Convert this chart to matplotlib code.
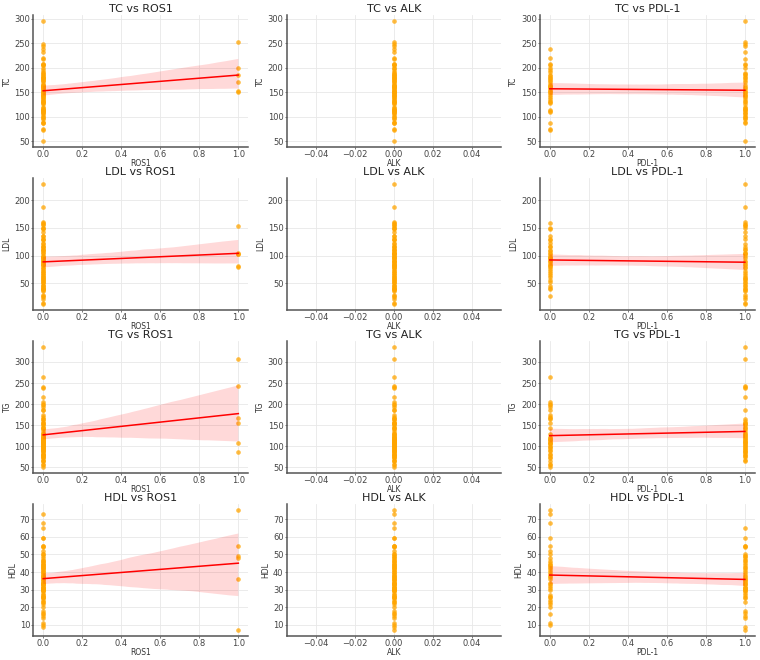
import matplotlib
matplotlib.use("Agg")
import matplotlib.pyplot as plt
from matplotlib.ticker import MultipleLocator
import numpy as np
import pandas as pd
import seaborn as sns

# ---- per-patient data (ROS1-positive patients first) ----
ros1_pos_pdl1 = [1, 1, 0, 1, 0, 1]
ros1_pos_tc = [252, 200, 186, 170, 152, 150]
ros1_pos_ldl = [154, 104, 103, 102, 81, 80]
ros1_pos_tg = [306, 242, 167, 155, 107, 87]
ros1_pos_hdl = [7, 55, 75, 49, 48, 36]

# ROS1-negative, PDL-1 negative patients
pdl0_tc = [238, 220, 207, 205, 200, 196, 192, 183, 180, 178, 175, 172, 168, 165, 162, 160, 158,
           155, 150, 148, 145, 140, 137, 133, 130, 128, 113, 112, 110, 88, 75, 72, 162]
pdl0_ldl = [158, 150, 148, 135, 130, 128, 122, 118, 115, 110, 108, 104, 100, 98, 96, 95, 92,
            90, 88, 85, 82, 80, 76, 72, 68, 65, 62, 52, 55, 45, 42, 40, 27]
pdl0_tg = [265, 205, 200, 197, 193, 185, 175, 170, 165, 155, 143, 128, 122, 120, 118, 115, 114,
           110, 108, 105, 100, 98, 95, 90, 88, 82, 80, 75, 72, 65, 58, 55, 50]
pdl0_hdl = [73, 68, 59, 55, 52, 50, 46, 44, 42, 41, 40, 39, 38, 37, 36, 34, 33,
            32, 31, 30, 27, 26, 26, 24, 23, 22, 20, 16, 11, 10, 45, 43, 44]

# ROS1-negative, PDL-1 positive patients
pdl1_tc = [295, 248, 245, 232, 218, 207, 205, 190, 187, 185, 182, 178, 175, 165, 160, 158, 155,
           150, 147, 145, 142, 140, 136, 133, 130, 126, 120, 117, 115, 113, 110, 108, 105, 102,
           100, 97, 95, 90, 88, 50, 114]
pdl1_ldl = [229, 188, 160, 157, 155, 150, 143, 135, 130, 120, 115, 112, 110, 105, 100, 95, 90,
            88, 85, 82, 78, 72, 68, 65, 62, 60, 57, 55, 52, 50, 47, 45, 42, 40, 38, 35, 28, 25,
            22, 15, 12]
pdl1_tg = [335, 237, 240, 216, 185, 165, 102, 160, 93, 155, 152, 150, 108, 145, 142, 140, 111,
           135, 132, 130, 127, 125, 122, 120, 117, 115, 112, 110, 105, 100, 97, 95, 90, 88, 85,
           82, 80, 77, 75, 66, 64]
pdl1_hdl = [65, 59, 55, 54, 50, 49, 48, 47, 46, 45, 44, 43, 42, 40, 39, 36, 35, 34, 33, 32, 31,
            30, 29, 28, 27, 26, 25, 23, 18, 17, 15, 14, 9, 41, 38, 37, 35, 33, 31, 30, 31]

lipids = ["TC", "LDL", "TG", "HDL"]
markers = ["ROS1", "ALK", "PDL-1"]
y_steps = {"TC": 50, "LDL": 50, "TG": 50, "HDL": 10}

n0, n1 = len(pdl0_tc), len(pdl1_tc)
df = pd.DataFrame({
    "ROS1": [1] * len(ros1_pos_tc) + [0] * (n0 + n1),
    "ALK": [0] * (len(ros1_pos_tc) + n0 + n1),
    "PDL-1": ros1_pos_pdl1 + [0] * n0 + [1] * n1,
    "TC": ros1_pos_tc + pdl0_tc + pdl1_tc,
    "LDL": ros1_pos_ldl + pdl0_ldl + pdl1_ldl,
    "TG": ros1_pos_tg + pdl0_tg + pdl1_tg,
    "HDL": ros1_pos_hdl + pdl0_hdl + pdl1_hdl,
})

plt.rcParams["font.family"] = ["DejaVu Sans"]
fig, axes = plt.subplots(4, 3, figsize=(7.6, 6.6), dpi=100)
fig.subplots_adjust(left=0.044, right=0.993, top=0.977, bottom=0.036,
                    wspace=0.18, hspace=0.235)

for i, lip in enumerate(lipids):
    for j, mk in enumerate(markers):
        ax = axes[i, j]
        ax.set_axisbelow(True)
        ax.grid(True, color="#e8e8e8", linewidth=0.6)
        if mk == "ALK":
            ax.scatter(df[mk], df[lip], color="orange", alpha=0.75, s=11, linewidths=0)
        else:
            sns.regplot(data=df, x=mk, y=lip, ax=ax, seed=0,
                        scatter_kws={"color": "orange", "alpha": 0.75, "s": 11, "linewidths": 0},
                        line_kws={"color": "red", "linewidth": 1.1})
        ax.yaxis.set_major_locator(MultipleLocator(y_steps[lip]))
        ax.set_title(f"{lip} vs {mk}", fontsize=8, color="#222222", pad=2)
        ax.set_xlabel(mk, fontsize=5.5, color="#333333", labelpad=0)
        ax.set_ylabel(lip, fontsize=5.5, color="#333333", labelpad=2)
        ax.tick_params(labelsize=6, colors="#444444", length=1.5, width=0.5, pad=0.8)
        for s in ["top", "right"]:
            ax.spines[s].set_visible(False)
        for s in ["left", "bottom"]:
            ax.spines[s].set_color("#555555")
            ax.spines[s].set_linewidth(1.1)

fig.savefig("out.png", dpi=100, facecolor="white")
